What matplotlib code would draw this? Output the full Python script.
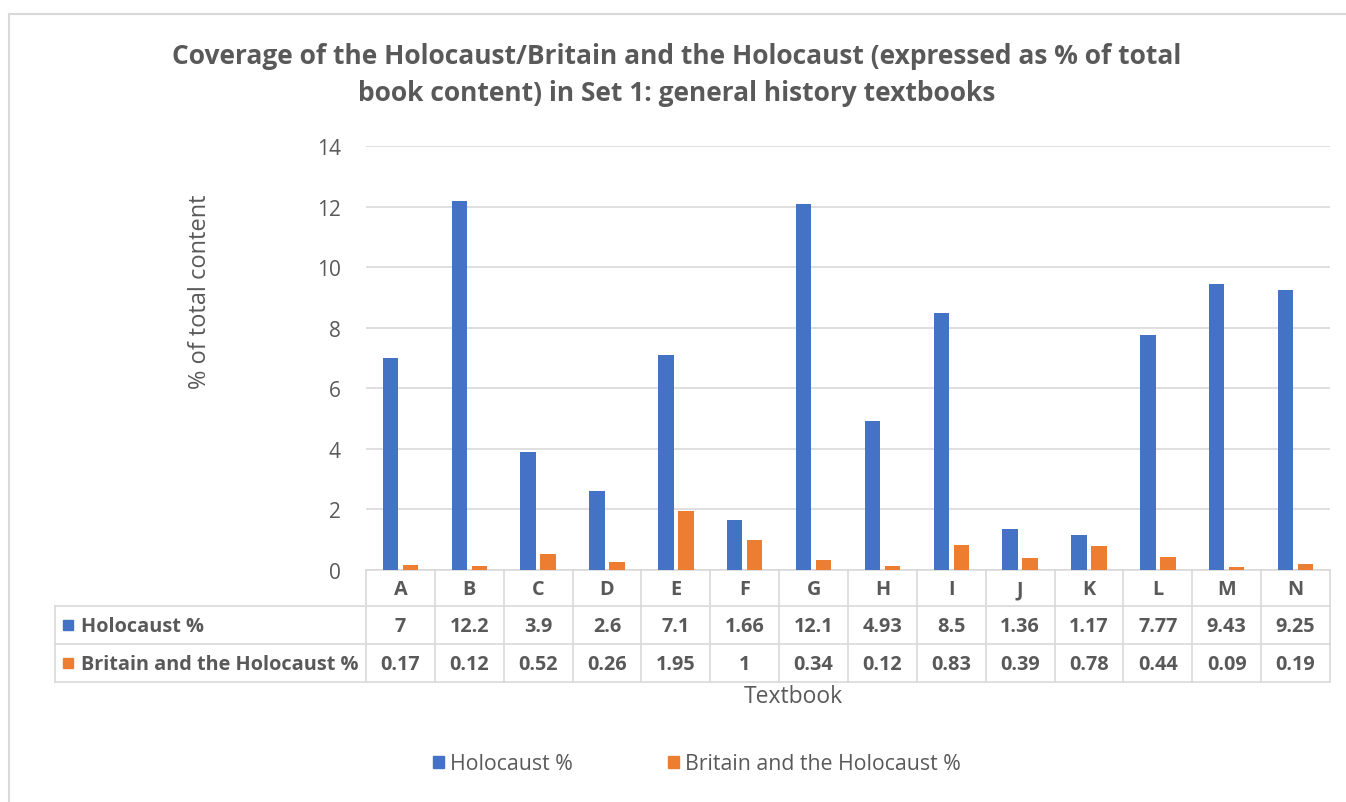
import matplotlib.pyplot as plt
from matplotlib.lines import Line2D
from matplotlib.patches import Patch
import numpy as np

plt.rcParams['font.family'] = ['Open Sans', 'DejaVu Sans']

textbooks = ['A', 'B', 'C', 'D', 'E', 'F', 'G', 'H', 'I', 'J', 'K', 'L', 'M', 'N']
holocaust = [7, 12.2, 3.9, 2.6, 7.1, 1.66, 12.1, 4.93, 8.5, 1.36, 1.17, 7.77, 9.43, 9.25]
britain = [0.17, 0.12, 0.52, 0.26, 1.95, 1, 0.34, 0.12, 0.83, 0.39, 0.78, 0.44, 0.09, 0.19]
holocaust_lbl = ['7', '12.2', '3.9', '2.6', '7.1', '1.66', '12.1', '4.93', '8.5', '1.36',
                 '1.17', '7.77', '9.43', '9.25']
britain_lbl = ['0.17', '0.12', '0.52', '0.26', '1.95', '1', '0.34', '0.12', '0.83', '0.39',
               '0.78', '0.44', '0.09', '0.19']
series_names = ['Holocaust %', 'Britain and the Holocaust %']
yticks = [0, 2, 4, 6, 8, 10, 12, 14]

BLUE = '#4472C4'
ORANGE = '#ED7D31'
TXT = '#595959'
GRID = '#D9D9D9'

W, H = 1346, 803
fig = plt.figure(figsize=(W / 100, H / 100), dpi=100)


def fbox(l, t, r, b):
    return [l / W, 1 - b / H, (r - l) / W, (b - t) / H]


# outer chart frame
fig.add_artist(Line2D([9 / W, 9 / W], [0, 1 - 15 / H], color=GRID, lw=1.5))
fig.add_artist(Line2D([9 / W, 1], [1 - 15 / H, 1 - 15 / H], color=GRID, lw=1.5))

# bar area
ax = fig.add_axes(fbox(366, 147, 1330, 571))
x = np.arange(len(textbooks))
bw = 0.225
ax.bar(x - 0.145, holocaust, bw, color=BLUE, zorder=3)
ax.bar(x + 0.145, britain, bw, color=ORANGE, zorder=3)
ax.set_xlim(-0.5, len(textbooks) - 0.5)
ax.set_ylim(0, 14)
ax.set_yticks(yticks)
ax.set_yticklabels([str(t) for t in yticks], fontsize=15, color=TXT)
ax.tick_params(axis='y', length=0, pad=18)
ax.set_xticks([])
ax.grid(axis='y', color=GRID, lw=1.2, zorder=0)
for s in ['top', 'right', 'left']:
    ax.spines[s].set_visible(False)
ax.spines['bottom'].set_color(GRID)
ax.spines['bottom'].set_linewidth(1.2)

# data table underneath
cw = (1330 - 366) / len(textbooks)
tab = fig.add_axes(fbox(55, 571, 1330, 683))
left = -0.5 - (366 - 55) / cw
tab.set_xlim(left, len(textbooks) - 0.5)
tab.set_ylim(112, 0)
tab.axis('off')


def px(p):
    return -0.5 + (p - 366) / cw


rows = [0, 36, 74, 112]
lk = dict(color=GRID, lw=1.2, clip_on=False)
for yy in rows[1:]:
    tab.plot([left, len(textbooks) - 0.5], [yy, yy], **lk)
for i in range(len(textbooks) + 1):
    tab.plot([i - 0.5, i - 0.5], [0, 112], **lk)
tab.plot([left, left], [rows[1], 112], **lk)

tk = dict(ha='center', va='center', fontsize=14.3, fontweight='bold', color=TXT)
for i, t in enumerate(textbooks):
    tab.text(i, (rows[0] + rows[1]) / 2 + 1, t, **tk)
    tab.text(i, (rows[1] + rows[2]) / 2 + 1, holocaust_lbl[i], **tk)
    tab.text(i, (rows[2] + rows[3]) / 2 + 1, britain_lbl[i], **tk)

for r, (name, c) in enumerate(zip(series_names, [BLUE, ORANGE])):
    yc = (rows[r + 1] + rows[r + 2]) / 2
    tab.add_patch(plt.Rectangle((px(63), yc - 5), px(73) - px(63), 10, color=c, clip_on=False))
    tab.text(px(81), yc + 1, name, ha='left', va='center', fontsize=14.3,
             fontweight='bold', color=TXT)

# titles and labels
fig.text(677 / W, 1 - 75 / H,
         'Coverage of the Holocaust/Britain and the Holocaust (expressed as % of total\n'
         'book content) in Set 1: general history textbooks',
         ha='center', va='center', fontsize=19, fontweight='bold', color=TXT,
         linespacing=1.5)
fig.text(200 / W, 1 - 292 / H, '% of total content', rotation=90, ha='center',
         va='center', fontsize=17, color=TXT)
fig.text(793 / W, 1 - 697 / H, 'Textbook', ha='center', va='center', fontsize=16.5,
         color=TXT)

handles = [Patch(color=BLUE), Patch(color=ORANGE)]
fig.legend(handles, series_names, loc='center', bbox_to_anchor=(697 / W, 1 - 765 / H),
           ncol=2, frameon=False, fontsize=15.3, handlelength=0.5, handleheight=0.5,
           handletextpad=0.3, columnspacing=4.5, labelcolor=TXT)

fig.savefig('out.png', dpi=100)
